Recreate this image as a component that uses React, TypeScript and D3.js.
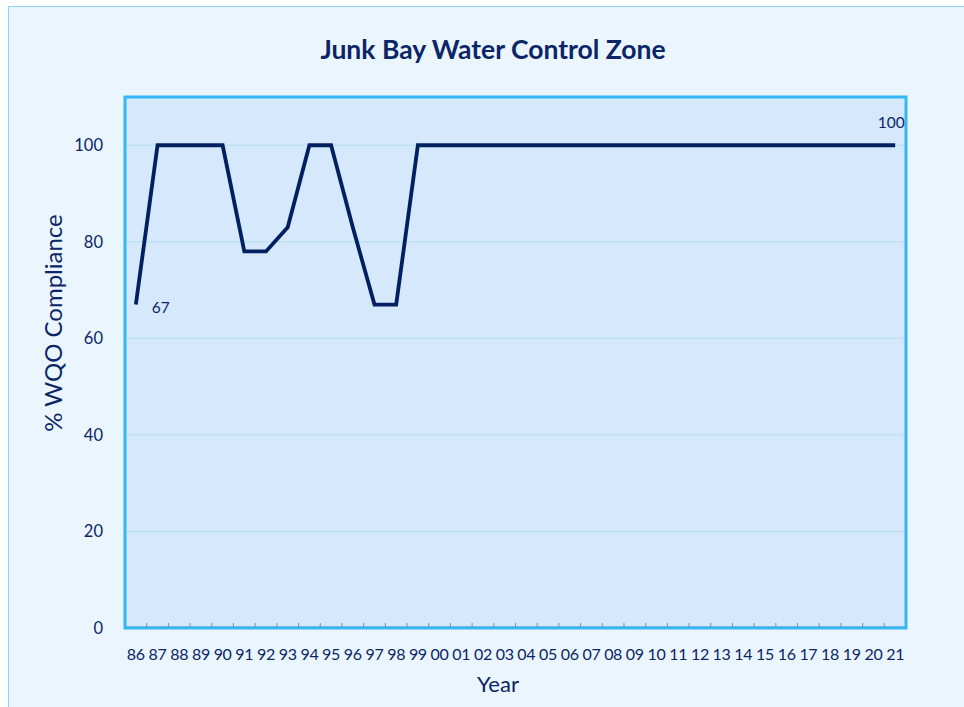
import { useEffect, useRef } from "react";
import * as d3 from "d3";

const years = [
  "86", "87", "88", "89", "90", "91", "92", "93", "94", "95", "96", "97",
  "98", "99", "00", "01", "02", "03", "04", "05", "06", "07", "08", "09",
  "10", "11", "12", "13", "14", "15", "16", "17", "18", "19", "20", "21",
];
const compliance = [
  67, 100, 100, 100, 100, 78, 78, 83, 100, 100, 83, 67,
  67, 100, 100, 100, 100, 100, 100, 100, 100, 100, 100, 100,
  100, 100, 100, 100, 100, 100, 100, 100, 100, 100, 100, 100,
];
const yTicks = [0, 20, 40, 60, 80, 100];

const NAVY = "#0b2566";
const FONT = "Lato, 'Open Sans', sans-serif";

export default function App() {
  const svgRef = useRef<SVGSVGElement>(null);

  useEffect(() => {
    if (!svgRef.current) return;
    const svg = d3.select(svgRef.current);
    svg.selectAll("*").remove();

    const plot = { left: 125, top: 97, right: 906, bottom: 628 };

    // outer chart area
    svg.append("rect")
      .attr("x", 8.5).attr("y", 6.5)
      .attr("width", 980).attr("height", 720)
      .attr("fill", "#eaf5fe")
      .attr("stroke", "#8ed4f8");

    svg.append("text")
      .attr("x", 493).attr("y", 59)
      .attr("text-anchor", "middle")
      .attr("font-family", FONT)
      .attr("font-weight", "bold")
      .attr("font-size", 26.5)
      .attr("fill", NAVY)
      .text("Junk Bay Water Control Zone");

    const x = d3.scaleBand<string>()
      .domain(years)
      .range([plot.left, plot.right]);
    const y = d3.scaleLinear().domain([0, 110]).range([plot.bottom, plot.top]);

    svg.append("rect")
      .attr("x", plot.left).attr("y", plot.top)
      .attr("width", plot.right - plot.left)
      .attr("height", plot.bottom - plot.top)
      .attr("fill", "#d6e8fc");

    // gridlines
    yTicks.filter((t) => t > 0).forEach((t) => {
      svg.append("line")
        .attr("x1", plot.left).attr("x2", plot.right)
        .attr("y1", y(t)).attr("y2", y(t))
        .attr("stroke", "#8fd4f7")
        .attr("stroke-width", 1)
        .attr("stroke-dasharray", "1,1");
    });

    // y tick labels
    yTicks.forEach((t) => {
      svg.append("text")
        .attr("x", 103).attr("y", y(t))
        .attr("dy", "0.35em")
        .attr("text-anchor", "end")
        .attr("font-family", FONT)
        .attr("font-size", 16.5)
        .attr("fill", NAVY)
        .text(t.toString());
    });

    // x axis line + ticks
    svg.append("line")
      .attr("x1", plot.left).attr("x2", plot.right)
      .attr("y1", plot.bottom - 1).attr("y2", plot.bottom - 1)
      .attr("stroke", "#8a8a8a").attr("stroke-width", 1);
    [...years.map((yr) => x(yr)!), plot.right].forEach((tx) => {
      svg.append("line")
        .attr("x1", tx).attr("x2", tx)
        .attr("y1", plot.bottom - 1).attr("y2", plot.bottom - 5)
        .attr("stroke", "#8a8a8a");
    });

    years.forEach((yr) => {
      svg.append("text")
        .attr("x", x(yr)! + x.bandwidth() / 2)
        .attr("y", 660)
        .attr("text-anchor", "middle")
        .attr("font-family", FONT)
        .attr("font-size", 16)
        .attr("letter-spacing", -0.3)
        .attr("fill", NAVY)
        .text(yr);
    });

    // plot border
    svg.append("rect")
      .attr("x", plot.left).attr("y", plot.top)
      .attr("width", plot.right - plot.left)
      .attr("height", plot.bottom - plot.top)
      .attr("fill", "none")
      .attr("stroke", "#35b6f6")
      .attr("stroke-width", 3);

    // line
    const line = d3.line<number>()
      .x((_, i) => x(years[i])! + x.bandwidth() / 2)
      .y((d) => y(d));
    svg.append("path")
      .datum(compliance)
      .attr("fill", "none")
      .attr("stroke", "#002060")
      .attr("stroke-width", 3.8)
      .attr("stroke-linejoin", "miter")
      .attr("d", line);

    // data labels
    const first = 0;
    const last = years.length - 1;
    svg.append("text")
      .attr("x", x(years[first])! + x.bandwidth() / 2 + 16)
      .attr("y", y(compliance[first]) + 3)
      .attr("dy", "0.35em")
      .attr("font-family", FONT)
      .attr("font-size", 15.5)
      .attr("fill", NAVY)
      .text(compliance[first].toString());
    svg.append("text")
      .attr("x", x(years[last])! + x.bandwidth() / 2 - 4)
      .attr("y", y(compliance[last]) - 17)
      .attr("text-anchor", "middle")
      .attr("font-family", FONT)
      .attr("font-size", 15.5)
      .attr("fill", NAVY)
      .text(compliance[last].toString());

    // axis titles
    svg.append("text")
      .attr("transform", "translate(54,323) rotate(-90)")
      .attr("text-anchor", "middle")
      .attr("dy", "0.35em")
      .attr("font-family", FONT)
      .attr("font-size", 24)
      .attr("fill", NAVY)
      .text("% WQO Compliance");
    svg.append("text")
      .attr("x", 498).attr("y", 692)
      .attr("text-anchor", "middle")
      .attr("font-family", FONT)
      .attr("font-size", 22)
      .attr("fill", NAVY)
      .text("Year");
  }, []);

  return (
    <svg
      ref={svgRef}
      width={964}
      height={707}
      style={{ position: "absolute", left: 0, top: 0, display: "block", background: "#fff" }}
    />
  );
}
